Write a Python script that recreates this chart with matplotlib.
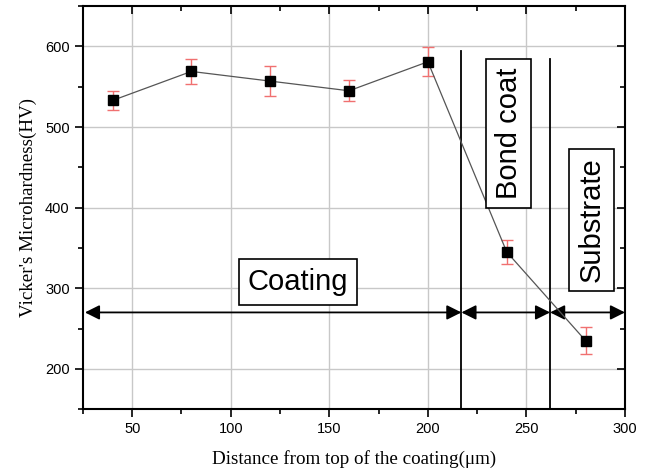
import numpy as np
import matplotlib.pyplot as plt
from matplotlib.ticker import MultipleLocator

distance = [40, 80, 120, 160, 200, 240, 280]
hardness = [533, 569, 557, 545, 581, 345, 235]
errors = [12, 15, 19, 13, 18, 15, 17]

boundaries = [217, 262]
boundary_tops = [594, 585]
region_labels = ['Coating', 'Bond coat', 'Substrate']

fig = plt.figure(figsize=(6.48, 4.73), dpi=100)
ax = fig.add_axes([0.128, 0.135, 0.8365, 0.852])

ax.errorbar(distance, hardness, yerr=errors, fmt='s-', color='#555555', lw=0.9,
            mfc='black', mec='black', ms=7, ecolor='#f07070', elinewidth=1,
            capsize=4, capthick=1, zorder=3)

for xb, top in zip(boundaries, boundary_tops):
    ax.plot([xb, xb], [150, top], color='black', lw=1.3, zorder=2)

# double arrows marking each region
spans = [(26, boundaries[0]), (boundaries[0], boundaries[1]), (boundaries[1], 300)]
for x0, x1 in spans:
    ax.annotate('', xy=(x1, 270), xytext=(x0, 270),
                arrowprops=dict(arrowstyle='<|-|>', color='black', lw=1.3,
                                mutation_scale=22, shrinkA=0, shrinkB=0))

box = dict(boxstyle='square,pad=0.3', fc='white', ec='black', lw=1.2)
ax.text(134, 308, region_labels[0], fontsize=21, family='Liberation Sans',
        ha='center', va='center', bbox=box, zorder=4)
ax.text(241, 492, region_labels[1], fontsize=21, family='Liberation Sans',
        ha='center', va='center', rotation=90, bbox=box, zorder=4)
ax.text(283, 385, region_labels[2], fontsize=21, family='Liberation Sans',
        ha='center', va='center', rotation=90, bbox=box, zorder=4)

ax.set_xlim(25, 300)
ax.set_ylim(150, 650)
ax.xaxis.set_major_locator(MultipleLocator(50))
ax.xaxis.set_minor_locator(MultipleLocator(25))
ax.yaxis.set_major_locator(MultipleLocator(100))
ax.yaxis.set_minor_locator(MultipleLocator(50))
ax.set_yticks([200, 300, 400, 500, 600])
ax.grid(True, which='major', color='#c8c8c8', lw=1)
ax.set_axisbelow(True)

ax.tick_params(axis='both', which='both', direction='out', top=True, right=True,
               width=1.2, labelsize=10.5)
ax.tick_params(which='major', length=6)
ax.tick_params(which='minor', length=3.5)
for lbl in ax.get_xticklabels() + ax.get_yticklabels():
    lbl.set_family('Liberation Sans')
for tick in ax.xaxis.get_major_ticks() + ax.xaxis.get_minor_ticks():
    tick.tick2line.set_marker(3)
for tick in ax.yaxis.get_major_ticks() + ax.yaxis.get_minor_ticks():
    tick.tick2line.set_marker(0)
for s in ax.spines.values():
    s.set_linewidth(1.5)

ax.set_xlabel('Distance from top of the coating(\u03bcm)', family='Liberation Serif',
              fontsize=13.7, labelpad=10)
ax.set_ylabel("Vicker's Microhardness(HV)", family='Liberation Serif', fontsize=13.7,
              labelpad=6)

fig.savefig('out.png', dpi=100)
